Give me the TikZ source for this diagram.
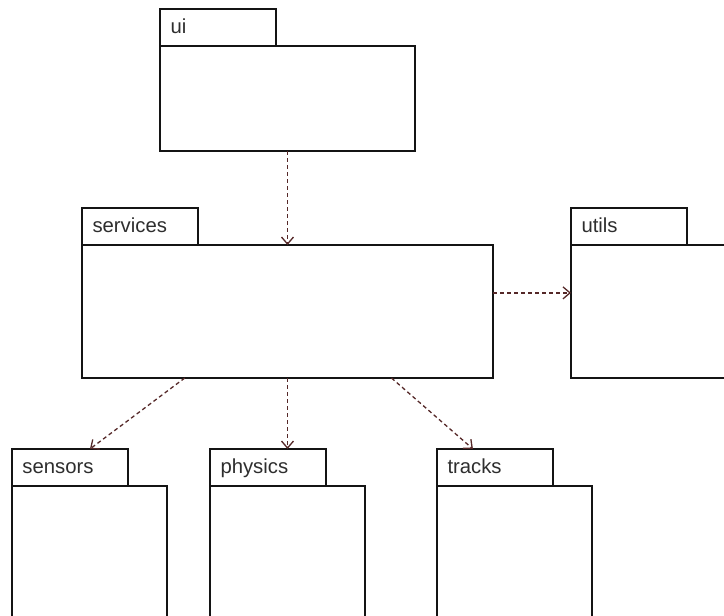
\documentclass[tikz,border=0pt]{standalone}
\usepackage{fontspec}
\setmainfont{Liberation Sans}
\usetikzlibrary{arrows.meta,calc}
\definecolor{dep}{RGB}{85,40,40}
\definecolor{edge}{RGB}{20,20,20}
\begin{document}
\begin{tikzpicture}[x=1pt,y=-1pt,
  pkgbody/.style={draw=edge, line width=1.2pt, fill=white, anchor=north west, inner sep=0pt, outer sep=0pt},
  pkgtab/.style={draw=edge, line width=1.2pt, fill=white, anchor=south west, minimum height=37pt, text width=95pt, text height=11pt, text depth=0pt, inner xsep=10.5pt, inner ysep=0pt, outer sep=0pt, align=left, font=\fontsize{20.3}{22}\selectfont, text=black!82},
  depline/.style={draw=dep, line width=1.3pt, dash pattern=on 4pt off 3pt, -{Straight Barb[length=7pt,width=12pt,line width=1.3pt]}}
]
\useasboundingbox (0,0) rectangle (724,616);
\clip (0,0) rectangle (724,616);
% bodies
\node[pkgbody, minimum width=255pt, minimum height=105pt] (ui) at (160,46) {};
\node[pkgbody, minimum width=411pt, minimum height=133pt] (svc) at (82,245) {};
\node[pkgbody, minimum width=180pt, minimum height=133pt] (utils) at (571,245) {};
\node[pkgbody, minimum width=155pt, minimum height=160pt] (sensors) at (12,486) {};
\node[pkgbody, minimum width=155pt, minimum height=160pt] (physics) at (210,486) {};
\node[pkgbody, minimum width=155pt, minimum height=160pt] (tracks) at (437,486) {};
% tabs
\node[pkgtab] (uitab) at (ui.north west) {ui};
\node[pkgtab] (svctab) at (svc.north west) {services};
\node[pkgtab] (utilstab) at (utils.north west) {utils};
\node[pkgtab] (sensorstab) at (sensors.north west) {sensors};
\node[pkgtab] (physicstab) at (physics.north west) {physics};
\node[pkgtab] (trackstab) at (tracks.north west) {tracks};
% dependencies
\draw[depline] (ui.south) -- (svc.north);
\coordinate (svcR) at ($(svc.north east)!0.36!(svc.south east)$);
\draw[depline] (svcR) -- (svcR -| utils.west);
\draw[depline] ($(svc.south west)!0.25!(svc.south east)$) -- ($(sensorstab.north west)!0.672!(sensorstab.north east)$);
\draw[depline] (svc.south) -- (svc.south |- physicstab.north);
\draw[depline] ($(svc.south west)!0.753!(svc.south east)$) -- ($(trackstab.north west)!0.31!(trackstab.north east)$);
\end{tikzpicture}
\end{document}
